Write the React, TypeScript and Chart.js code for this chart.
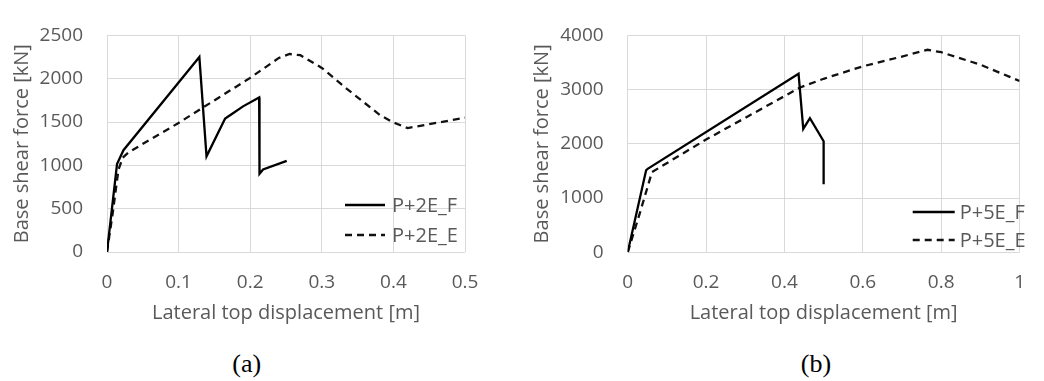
import React, { useEffect, useRef } from "react";
import { Chart, registerables } from "chart.js";

Chart.register(...registerables);

// ---------- data ----------
const xA_F = [0, 0.014, 0.023, 0.129, 0.139, 0.165, 0.177, 0.19, 0.2125, 0.213, 0.218, 0.251];
const yA_F = [0, 1015, 1175, 2250, 1104, 1540, 1607, 1681, 1784, 903, 952, 1051];
const xA_E = [0, 0.008, 0.016, 0.022, 0.03, 0.1, 0.2, 0.24, 0.255, 0.27, 0.3, 0.335, 0.381, 0.4, 0.42, 0.45, 0.5];
const yA_E = [0, 450, 950, 1090, 1150, 1490, 2010, 2240, 2285, 2272, 2125, 1883, 1582, 1495, 1430, 1475, 1550];

const xB_F = [0, 0.047, 0.051, 0.436, 0.448, 0.465, 0.5, 0.5];
const yB_F = [0, 1511, 1540, 3294, 2275, 2473, 2049, 1257];
const xB_E = [0, 0.03, 0.062, 0.2, 0.44, 0.5, 0.6, 0.7, 0.765, 0.8, 0.9, 1.0];
const yB_E = [0, 700, 1480, 2080, 3040, 3200, 3430, 3610, 3735, 3690, 3460, 3160];

const xTicksA = [0, 0.1, 0.2, 0.3, 0.4, 0.5];
const yTicksA = [0, 500, 1000, 1500, 2000, 2500];
const xTicksB = [0, 0.2, 0.4, 0.6, 0.8, 1];
const yTicksB = [0, 1000, 2000, 3000, 4000];

const labelsA = ["P+2E_F", "P+2E_E"];
const labelsB = ["P+5E_F", "P+5E_E"];
const xTitle = "Lateral top displacement [m]";
const yTitle = "Base shear force [kN]";

// ---------- styles ----------
const TEXT = "#595959";
const GRID = "#d9d9d9";
const FAMILY = "'Open Sans', sans-serif";
const TICK_FONT = { family: FAMILY, size: 19 };
const TITLE_FONT = { family: FAMILY, size: 20 };
const LEGEND_SIZE = 20;

const pts = (xs: number[], ys: number[]) => xs.map((x, i) => ({ x, y: ys[i] }));

const insideLegend = {
  id: "insideLegend",
  afterDraw(chart: any, _args: any, opts: any) {
    const { ctx } = chart;
    ctx.save();
    chart.data.datasets.forEach((ds: any, i: number) => {
      const y = opts.y + i * opts.rowGap;
      ctx.strokeStyle = ds.borderColor;
      ctx.lineWidth = ds.borderWidth;
      ctx.setLineDash(ds.borderDash || []);
      ctx.beginPath();
      ctx.moveTo(opts.x, y);
      ctx.lineTo(opts.x + opts.lineLen, y);
      ctx.stroke();
      ctx.setLineDash([]);
      ctx.fillStyle = TEXT;
      ctx.font = `${LEGEND_SIZE}px ${FAMILY}`;
      ctx.textBaseline = "middle";
      ctx.textAlign = "left";
      ctx.fillText(ds.label, opts.x + opts.lineLen + opts.gap, y + 1);
    });
    ctx.restore();
  },
};

type PanelProps = {
  left: number;
  width: number;
  height: number;
  xs: [number[], number[]];
  ys: [number[], number[]];
  labels: string[];
  xMax: number;
  yMax: number;
  xTicks: number[];
  yTicks: number[];
  padding: { left: number; right: number; top: number; bottom: number };
  yAxisWidth: number;
  legend: { x: number; y: number; rowGap: number; lineLen: number; gap: number };
};

function Panel(p: PanelProps) {
  const ref = useRef<HTMLCanvasElement | null>(null);
  useEffect(() => {
    if (!ref.current) return;
    const chart = new Chart(ref.current, {
      type: "line",
      data: {
        datasets: [
          {
            label: p.labels[0],
            data: pts(p.xs[0], p.ys[0]),
            borderColor: "#000000",
            borderWidth: 2.3,
            pointRadius: 0,
            tension: 0,
            fill: false,
          },
          {
            label: p.labels[1],
            data: pts(p.xs[1], p.ys[1]),
            borderColor: "#111111",
            borderWidth: 2.3,
            borderDash: [7, 5],
            pointRadius: 0,
            tension: 0,
            fill: false,
          },
        ],
      },
      options: {
        responsive: false,
        animation: false,
        events: [],
        layout: { padding: p.padding },
        plugins: {
          legend: { display: false },
          tooltip: { enabled: false },
          insideLegend: p.legend,
        } as any,
        scales: {
          x: {
            type: "linear",
            min: 0,
            max: p.xMax,
            afterBuildTicks: (s: any) => {
              s.ticks = p.xTicks.map((v) => ({ value: v }));
            },
            afterFit: (s: any) => {
              s.height = 73;
            },
            ticks: {
              color: TEXT,
              font: TICK_FONT,
              padding: 19,
              maxRotation: 0,
              autoSkip: false,
              callback: (v: any) => String(v),
            },
            grid: { color: GRID, lineWidth: 1, drawTicks: false },
            border: { display: false },
            title: {
              display: true,
              text: xTitle,
              color: TEXT,
              font: TITLE_FONT,
              padding: { top: 0, bottom: 0 },
            },
          },
          y: {
            type: "linear",
            min: 0,
            max: p.yMax,
            afterBuildTicks: (s: any) => {
              s.ticks = p.yTicks.map((v) => ({ value: v }));
            },
            afterFit: (s: any) => {
              s.width = p.yAxisWidth;
            },
            ticks: {
              color: TEXT,
              font: TICK_FONT,
              padding: 24,
              autoSkip: false,
              callback: (v: any) => String(v),
            },
            grid: { color: GRID, lineWidth: 1, drawTicks: false },
            border: { display: false },
            title: {
              display: true,
              text: yTitle,
              color: TEXT,
              font: TITLE_FONT,
              padding: { top: 10, bottom: 0 },
            },
          },
        },
      } as any,
      plugins: [insideLegend as any],
    });
    return () => chart.destroy();
  }, []);
  return (
    <canvas
      ref={ref}
      width={p.width}
      height={p.height}
      style={{ position: "absolute", left: p.left, top: 0, width: p.width, height: p.height, display: "block" }}
    />
  );
}

const captionStyle = (cx: number): React.CSSProperties => ({
  position: "absolute",
  left: cx - 50,
  width: 100,
  top: 349,
  textAlign: "center",
  fontFamily: "'Liberation Serif', 'Times New Roman', serif",
  fontSize: 26,
  lineHeight: "30px",
  color: "#000",
});

export default function App() {
  return (
    <div style={{ position: "absolute", left: 0, top: 0, width: 1044, height: 381, background: "#fff", overflow: "hidden" }}>
      <Panel
        left={0}
        width={520}
        height={330}
        xs={[xA_F, xA_E]}
        ys={[yA_F, yA_E]}
        labels={labelsA}
        xMax={0.5}
        yMax={2500}
        xTicks={xTicksA}
        yTicks={yTicksA}
        padding={{ left: 0, right: 55, top: 17, bottom: 5 }}
        yAxisWidth={107}
        legend={{ x: 345, y: 205, rowGap: 30, lineLen: 40, gap: 7 }}
      />
      <Panel
        left={520}
        width={524}
        height={330}
        xs={[xB_F, xB_E]}
        ys={[yB_F, yB_E]}
        labels={labelsB}
        xMax={1}
        yMax={4000}
        xTicks={xTicksB}
        yTicks={yTicksB}
        padding={{ left: 0, right: 9.7, top: 16.7, bottom: 4.7 }}
        yAxisWidth={107.7}
        legend={{ x: 392.7, y: 212, rowGap: 28, lineLen: 42, gap: 5 }}
      />
      <div style={captionStyle(246.7)}>(a)</div>
      <div style={captionStyle(816)}>(b)</div>
    </div>
  );
}
